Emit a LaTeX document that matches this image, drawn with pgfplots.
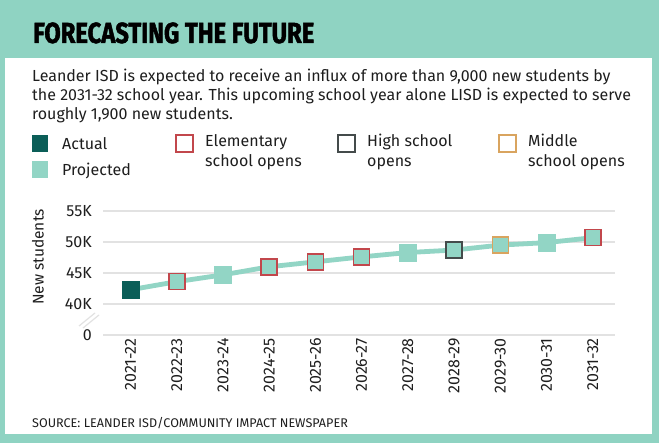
\documentclass[border=0pt]{standalone}
\usepackage{pgfplots}
\pgfplotsset{compat=1.18}
\usepackage{fontspec}
\setmainfont{Fira Sans}
\newfontfamily\titlefont[FakeStretch=0.82,FakeBold=1.6]{Fira Sans}
\definecolor{bandteal}{HTML}{8FD3C2}
\definecolor{lineteal}{HTML}{92D5C5}
\definecolor{darkteal}{HTML}{0B5E58}
\definecolor{elemred}{HTML}{C2474C}
\definecolor{hsgray}{HTML}{444B4B}
\definecolor{msorange}{HTML}{D9A45F}
\definecolor{gridgray}{HTML}{E2E2E2}
\definecolor{ink}{HTML}{1E1E1E}
\begin{document}
\begin{tikzpicture}
\begin{scope}[x=1pt,y=1pt]
\fill[bandteal] (0,0) rectangle (659,443);
\fill[white] (5,9) rectangle (652,385);
\node[anchor=base west, inner sep=0, text=black] at (33,400) {\titlefont\bfseries\fontsize{29}{30}\selectfont FORECASTING THE FUTURE};
\begin{scope}[every node/.style={anchor=base west, inner sep=0, text=ink, font=\fontsize{16}{19}\selectfont}]
\node at (32,361) {Leander ISD is expected to receive an influx of more than 9,000 new students by};
\node at (32,342) {the 2031-32 school year. This upcoming school year alone LISD is expected to serve};
\node at (32,323) {roughly 1,900 new students.};
% legend
\fill[darkteal] (32,291) rectangle (48,308);
\node at (62,293) {Actual};
\fill[lineteal] (32,265) rectangle (48,282);
\node at (62,267) {Projected};
\draw[elemred, line width=1.6pt] (176,291) rectangle (193,308);
\node at (205,296) {Elementary};
\node at (205,276) {school opens};
\draw[hsgray, line width=1.6pt] (338,291) rectangle (355,308);
\node at (367,296) {High school};
\node at (367,276) {opens};
\draw[msorange, line width=1.6pt] (499,291) rectangle (516,308);
\node at (528,296) {Middle};
\node at (528,276) {school opens};
\node[font=\fontsize{12.6}{14}\selectfont] at (32,15) {SOURCE: LEANDER ISD/COMMUNITY IMPACT NEWSPAPER};
\node[font=\fontsize{15.5}{18}\selectfont, rotate=90, anchor=center] at (38,186) {New students};
\end{scope}
% axis break marks
\draw[gridgray, line width=1.2pt] (79,117) -- (95,130);
\draw[gridgray, line width=1.2pt] (83,115) -- (99,128);
\end{scope}
\begin{axis}[
  at={(103pt,108pt)}, anchor=south west,
  scale only axis, width=512pt, height=124pt,
  xmin=-0.595, xmax=10.48, ymin=35, ymax=55,
  axis line style={draw=none},
  clip=false,
  xtick={0,...,10},
  xticklabels={2021-22,2022-23,2023-24,2024-25,2025-26,2026-27,2027-28,2028-29,2029-30,2030-31,2031-32},
  ytick={35,40,45,50,55},
  yticklabels={0,40K,45K,50K,55K},
  major tick length=0pt,
  /pgf/number format/assume math mode=true,
  xticklabel style={rotate=90, anchor=east, font=\fontsize{16}{18}\selectfont, text=ink, inner sep=0pt},
  yticklabel style={font=\fontsize{16}{18}\selectfont, text=ink, inner sep=0pt},
  xticklabel shift=3pt,
  yticklabel shift=11pt,
  ymajorgrids, grid style={gridgray, line width=1.2pt},
]
\addplot[lineteal, line width=4.8pt, mark=none] coordinates {
(0,42.3) (1,43.6) (2,44.7) (3,46.0) (4,46.8) (5,47.6) (6,48.3) (7,48.7) (8,49.5) (9,49.9) (10,50.7)};
\addplot[only marks, mark=square*, mark size=8.5pt, mark options={fill=darkteal, draw=darkteal}] coordinates {(0,42.3)};
\addplot[only marks, mark=square*, mark size=8.5pt, mark options={fill=lineteal, draw=lineteal}] coordinates {(2,44.7) (6,48.3) (9,49.9)};
\addplot[only marks, mark=square*, mark size=8pt, mark options={fill=lineteal, draw=elemred, line width=1.6pt}] coordinates {(1,43.6) (3,46.0) (4,46.8) (5,47.6) (10,50.7)};
\addplot[only marks, mark=square*, mark size=8pt, mark options={fill=lineteal, draw=hsgray, line width=1.6pt}] coordinates {(7,48.7)};
\addplot[only marks, mark=square*, mark size=8pt, mark options={fill=lineteal, draw=msorange, line width=1.6pt}] coordinates {(8,49.5)};
\end{axis}
\end{tikzpicture}
\end{document}
